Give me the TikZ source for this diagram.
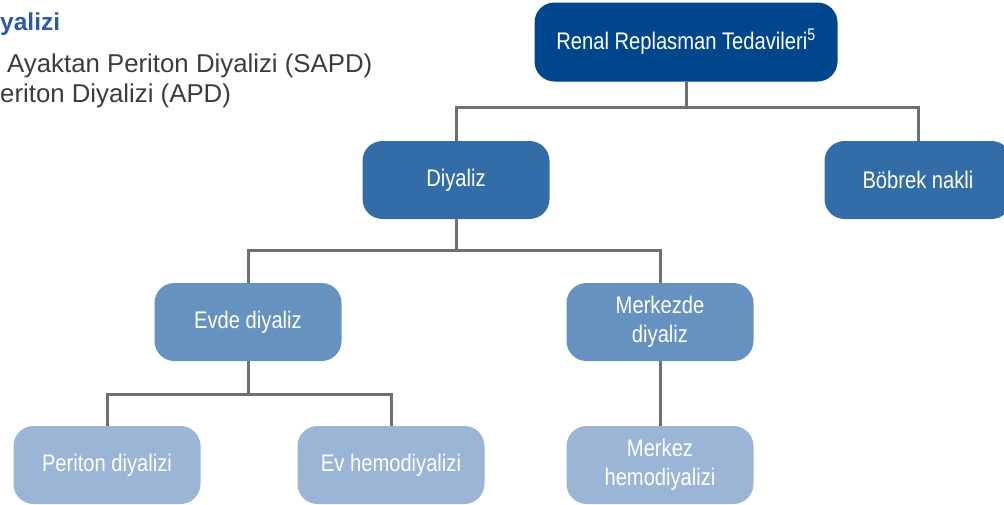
\documentclass[tikz,border=0pt]{standalone}
\usepackage{fontspec}
\setmainfont{Liberation Sans}
\newfontfamily\boxfont[FakeStretch=0.84]{Liberation Sans}

\definecolor{lvlA}{HTML}{00468C}
\definecolor{lvlB}{HTML}{336DA8}
\definecolor{lvlC}{HTML}{6592C0}
\definecolor{lvlD}{HTML}{9AB5D5}
\definecolor{linkgray}{HTML}{707070}
\definecolor{headblue}{HTML}{2B5BA5}
\definecolor{bodygray}{HTML}{3C3C3C}

\tikzset{
  box/.style={rounded corners=20pt, minimum width=187pt, minimum height=78pt,
    align=center, text=white, inner sep=2pt,
    font=\boxfont\fontsize{24}{29}\selectfont},
  link/.style={draw=linkgray, line width=3pt},
  side/.style={anchor=base west, inner sep=0pt, text=bodygray,
    font=\fontsize{25.8}{30}\selectfont}
}

\begin{document}
\begin{tikzpicture}[x=1pt,y=-1pt]

    % Frame
    \useasboundingbox (0,0) rectangle (1004,504);
    \clip (0,0) rectangle (1004,504);

    % Side text
    \node[side, text=headblue, font=\bfseries\fontsize{24.5}{30}\selectfont] (head) at (0,30) {yalizi};
    \node[side] (sapd) at (7,72) {Ayaktan Periton Diyalizi (SAPD)};
    \node[side] (apd) at (0,102) {eriton Diyalizi (APD)};

    % Boxes
    \node[box, fill=lvlA, minimum width=303pt, minimum height=79pt] (rrt) at (686,42) {Renal Replasman Tedavileri\textsuperscript{5}};
    \node[box, fill=lvlB] (diy) at (456,180) {Diyaliz};
    \node[box, fill=lvlB] (bob) at (918,180) {Böbrek nakli};
    \node[box, fill=lvlC] (evde) at (248,322) {Evde diyaliz};
    \node[box, fill=lvlC] (mrkd) at (660,322) {Merkezde\\diyaliz};
    \node[box, fill=lvlD] (per) at (107,465) {Periton diyalizi};
    \node[box, fill=lvlD] (evh) at (391,465) {Ev hemodiyalizi};
    \node[box, fill=lvlD] (mrkh) at (660,465) {Merkez\\hemodiyalizi};

    % Links
    \draw[link] (rrt.south) -- ++(0,26) -| (diy.north);
    \draw[link] (rrt.south) -- ++(0,26) -| (bob.north);
    \draw[link] (diy.south) -- ++(0,31) -| (evde.north);
    \draw[link] (diy.south) -- ++(0,31) -| (mrkd.north);
    \draw[link] (evde.south) -- ++(0,33) -| (per.north);
    \draw[link] (evde.south) -- ++(0,33) -| (evh.north);
    \draw[link] (mrkd.south) -- (mrkh.north);

\end{tikzpicture}
\end{document}
